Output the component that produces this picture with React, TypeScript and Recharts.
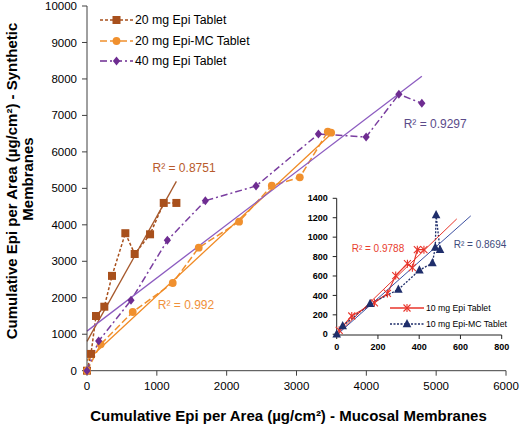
import React from 'react';
import {
  ComposedChart,
  Line,
  XAxis,
  YAxis,
  Legend,
  ReferenceDot,
} from 'recharts';

// main chart: cumulative Epi (µg/cm²), mucosal (x) vs synthetic (y)
const epi20X = [0, 57, 129, 248, 358, 549, 683, 903, 1099, 1280];
const epi20Y = [0, 460, 1500, 1755, 2600, 3770, 3200, 3740, 4600, 4600];
const mc20X = [0, 196, 655, 1228, 1600, 2178, 2646, 3047, 3448, 3496];
const mc20Y = [0, 724, 1610, 2405, 3373, 4086, 5073, 5303, 6553, 6526];
const epi40X = [0, 167, 630, 1151, 1695, 2421, 3314, 3997, 4466, 4795];
const epi40Y = [0, 814, 1930, 3575, 4662, 5064, 6490, 6408, 7579, 7332];

// inset: 10 mg tablets
const epi10X = [12, 73, 183, 246, 286, 343, 367, 391, 423];
const epi10Y = [40, 188, 324, 420, 604, 727, 686, 871, 871];
const mc10X = [0, 29, 162, 299, 401, 464, 478, 482, 501];
const mc10Y = [0, 85, 314, 461, 659, 734, 894, 1229, 870];

const mainTicksX = [0, 1000, 2000, 3000, 4000, 5000, 6000];
const mainTicksY = [0, 1000, 2000, 3000, 4000, 5000, 6000, 7000, 8000, 9000, 10000];
const insetTicksX = [0, 200, 400, 600, 800];
const insetTicksY = [0, 200, 400, 600, 800, 1000, 1200, 1400];

const FONT = "Arial, 'Liberation Sans', sans-serif";

const brown = '#A8501C';
const orange = '#F0902E';
const purple = '#6E2C91';
const red = '#E8352B';
const navy = '#1F2E6B';

const toPoints = (xs: number[], ys: number[]) => xs.map((x, i) => ({ x, y: ys[i] }));

// least squares trendline between x0 and x1
function trend(xs: number[], ys: number[], x0: number, x1: number) {
  const n = xs.length;
  const mx = xs.reduce((a, b) => a + b, 0) / n;
  const my = ys.reduce((a, b) => a + b, 0) / n;
  let sxy = 0;
  let sxx = 0;
  xs.forEach((x, i) => {
    sxy += (x - mx) * (ys[i] - my);
    sxx += (x - mx) * (x - mx);
  });
  const slope = sxy / sxx;
  const icpt = my - slope * mx;
  return [
    { x: x0, y: icpt + slope * x0 },
    { x: x1, y: icpt + slope * x1 },
  ];
}

function Marker({ kind, cx, cy }: { kind: string; cx: number; cy: number }) {
  if (kind === 'square')
    return <rect x={cx - 4} y={cy - 4} width={8} height={8} fill={brown} />;
  if (kind === 'circle') return <circle cx={cx} cy={cy} r={3.9} fill={orange} />;
  if (kind === 'diamond')
    return (
      <polygon
        points={`${cx},${cy - 4.5} ${cx + 3.6},${cy} ${cx},${cy + 4.5} ${cx - 3.6},${cy}`}
        fill={purple}
      />
    );
  if (kind === 'star')
    return (
      <g stroke={red} strokeWidth={1.1}>
        <line x1={cx - 3.5} y1={cy - 3.5} x2={cx + 3.5} y2={cy + 3.5} />
        <line x1={cx - 3.5} y1={cy + 3.5} x2={cx + 3.5} y2={cy - 3.5} />
        <line x1={cx} y1={cy - 4} x2={cx} y2={cy + 4} />
      </g>
    );
  return (
    <polygon
      points={`${cx},${cy - 5} ${cx + 4.3},${cy + 3.3} ${cx - 4.3},${cy + 3.3}`}
      fill={navy}
    />
  );
}

const dotOf = (kind: string) => (p: any) =>
  <Marker key={`${kind}${p.index}`} kind={kind} cx={p.cx} cy={p.cy} />;

const mainLegend = [
  { name: '20 mg Epi Tablet', color: brown, dash: '3 2', marker: 'square' },
  { name: '20 mg Epi-MC Tablet', color: orange, dash: '7 3', marker: 'circle' },
  { name: '40 mg Epi Tablet', color: purple, dash: '7 3 2 3', marker: 'diamond' },
];
const insetLegend = [
  { name: '10 mg Epi Tablet', color: red, dash: undefined, marker: 'star' },
  { name: '10 mg Epi-MC Tablet', color: navy, dash: '2 1.5', marker: 'triangle' },
];

function legendContent(items: typeof mainLegend, fontSize: number, rowH: number, symW: number) {
  return () => (
    <div style={{ fontFamily: FONT, fontSize, color: '#000' }}>
      {items.map((it) => (
        <div key={it.name} style={{ display: 'flex', alignItems: 'center', height: rowH }}>
          <svg width={symW} height={12}>
            <line x1={0} y1={6} x2={symW} y2={6} stroke={it.color} strokeWidth={1.4} strokeDasharray={it.dash} />
            <Marker kind={it.marker} cx={symW / 2} cy={6} />
          </svg>
          <span style={{ marginLeft: 2, whiteSpace: 'nowrap' }}>{it.name}</span>
        </div>
      ))}
    </div>
  );
}

function YTitle() {
  const style = { fontFamily: FONT, fontSize: 15, fontWeight: 'bold' as const, fill: '#000' };
  return (
    <g>
      <text x={11} y={181} transform="rotate(-90, 11, 181)" textAnchor="middle" dominantBaseline="central" style={style}>
        Cumulative Epi per Area (µg/cm²) - Synthetic
      </text>
      <text x={27.5} y={179} transform="rotate(-90, 27.5, 179)" textAnchor="middle" dominantBaseline="central" style={style}>
        Membranes
      </text>
    </g>
  );
}

export default function App() {
  const s20 = toPoints(epi20X, epi20Y);
  const m20 = toPoints(mc20X, mc20Y);
  const s40 = toPoints(epi40X, epi40Y);
  const s10 = toPoints(epi10X, epi10Y);
  const m10 = toPoints(mc10X, mc10Y);

  return (
    <div style={{ position: 'absolute', left: 0, top: 0, width: 520, height: 426, background: '#fff', fontFamily: FONT }}>
      <ComposedChart width={520} height={426} margin={{ top: 6, right: 14, bottom: 15.3, left: 27 }}>
        <XAxis
          type="number"
          dataKey="x"
          domain={[0, 6000]}
          ticks={mainTicksX}
          height={40}
          stroke="#404040"
          tickSize={5}
          tickMargin={6}
          tick={{ fill: '#000', fontSize: 11.5 }}
          label={{
            value: 'Cumulative Epi per Area (µg/cm²) - Mucosal Membranes',
            position: 'bottom',
            offset: 0,
            dx: -8,
            fill: '#000',
            fontSize: 15,
            fontWeight: 'bold',
          }}
        />
        <YAxis
          type="number"
          dataKey="y"
          domain={[0, 10000]}
          ticks={mainTicksY}
          width={60}
          stroke="#404040"
          tickSize={5}
          tickMargin={5}
          tick={{ fill: '#000', fontSize: 11.5 }}
          label={<YTitle />}
        />
        <Line data={s20} dataKey="y" stroke={brown} strokeWidth={1.5} strokeDasharray="3 2" dot={dotOf('square')} isAnimationActive={false} />
        <Line data={m20} dataKey="y" stroke={orange} strokeWidth={1.5} strokeDasharray="7 3" dot={dotOf('circle')} isAnimationActive={false} />
        <Line data={s40} dataKey="y" stroke="#7A3EA0" strokeWidth={1.5} strokeDasharray="7 3 2 3" dot={dotOf('diamond')} isAnimationActive={false} />
        <Line data={trend(epi20X, epi20Y, 0, 1280)} dataKey="y" stroke="#A6582B" strokeWidth={1.3} dot={false} isAnimationActive={false} />
        <Line data={trend(mc20X, mc20Y, 0, 3496)} dataKey="y" stroke="#F08A24" strokeWidth={1.3} dot={false} isAnimationActive={false} />
        <Line data={trend(epi40X, epi40Y, 0, 4795)} dataKey="y" stroke="#8C5CC0" strokeWidth={1.3} dot={false} isAnimationActive={false} />
        <ReferenceDot x={1390} y={5558} r={0} stroke="none" fill="none" label={{ value: 'R² = 0.8751', position: 'center', fill: '#B85A2C', fontSize: 12 }} />
        <ReferenceDot x={1418} y={1800} r={0} stroke="none" fill="none" label={{ value: 'R² = 0.992', position: 'center', fill: '#F0913A', fontSize: 12 }} />
        <ReferenceDot x={4986} y={6765} r={0} stroke="none" fill="none" label={{ value: 'R² = 0.9297', position: 'center', fill: '#5B4B8A', fontSize: 12 }} />
        <Legend
          layout="vertical"
          align="center"
          verticalAlign="middle"
          wrapperStyle={{ left: 100, top: 9.75, width: 'auto' }}
          content={legendContent(mainLegend, 12.3, 20.5, 33)}
        />
      </ComposedChart>

      <div style={{ position: 'absolute', left: 300, top: 190 }}>
        <ComposedChart width={215} height={170} margin={{ top: 8.3, right: 13.3, bottom: 5, left: 6.7 }}>
          <XAxis
            type="number"
            dataKey="x"
            domain={[0, 800]}
            ticks={insetTicksX}
            height={20}
            stroke="#222"
            tickSize={4}
            tickMargin={4.5}
            tick={{ fill: '#000', fontSize: 9, fontWeight: 'bold' }}
          />
          <YAxis
            type="number"
            dataKey="y"
            domain={[0, 1400]}
            ticks={insetTicksY}
            width={30}
            stroke="#222"
            tickSize={4}
            tickMargin={5}
            tick={{ fill: '#000', fontSize: 9, fontWeight: 'bold' }}
          />
          <Line data={s10} dataKey="y" stroke={red} strokeWidth={1.2} dot={dotOf('star')} isAnimationActive={false} />
          <Line data={m10} dataKey="y" stroke={navy} strokeWidth={1.3} strokeDasharray="2 1.5" dot={dotOf('triangle')} isAnimationActive={false} />
          <Line data={trend(epi10X, epi10Y, 0, 582)} dataKey="y" stroke={red} strokeWidth={1} dot={false} isAnimationActive={false} />
          <Line data={trend(mc10X, mc10Y, 0, 650)} dataKey="y" stroke="#3B4FA0" strokeWidth={1} dot={false} isAnimationActive={false} />
          <ReferenceDot x={200} y={880} r={0} stroke="none" fill="none" label={{ value: 'R² = 0.9788', position: 'center', fill: '#E8402F', fontSize: 10 }} />
          <ReferenceDot x={695} y={922} r={0} stroke="none" fill="none" label={{ value: 'R² = 0.8694', position: 'center', fill: '#3D4B7C', fontSize: 10 }} />
          <Legend
            layout="vertical"
            align="center"
            verticalAlign="middle"
            wrapperStyle={{ left: 90, top: 110.3, width: 'auto' }}
            content={legendContent(insetLegend, 8.7, 16, 34)}
          />
        </ComposedChart>
      </div>
    </div>
  );
}
